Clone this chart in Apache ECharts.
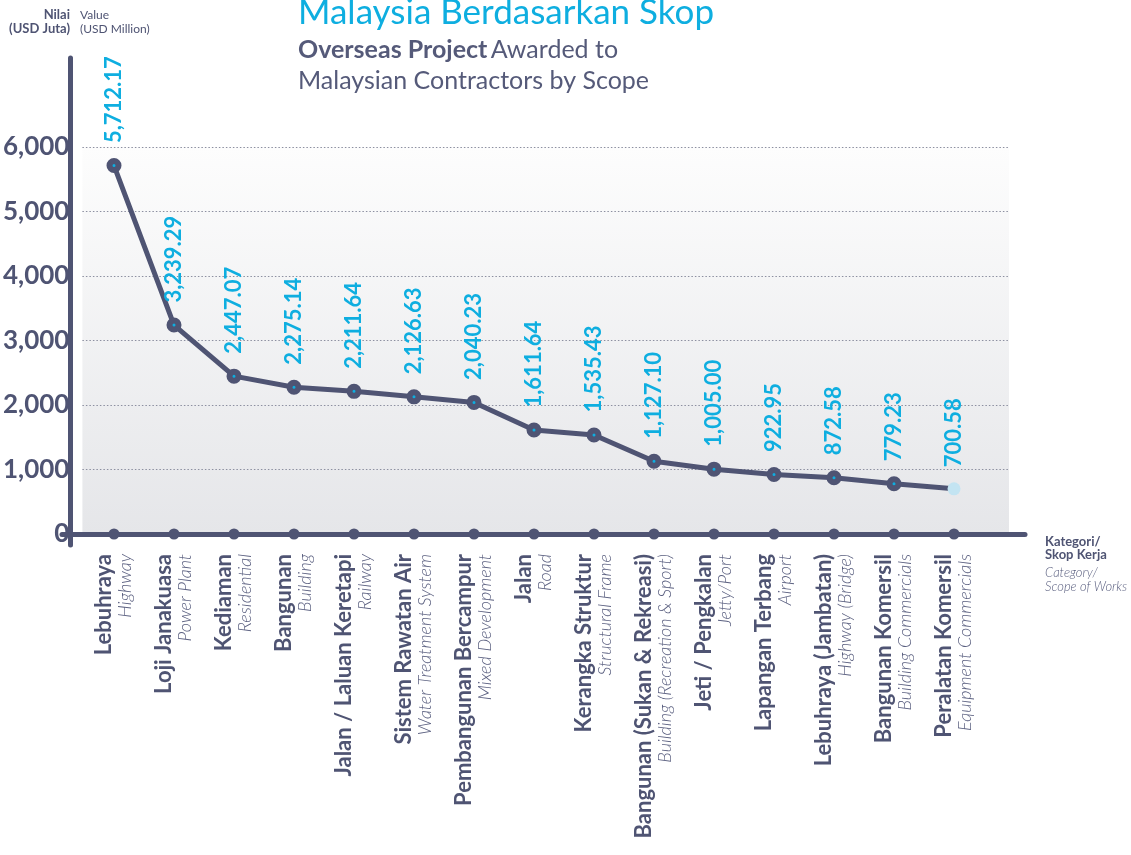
<!DOCTYPE html>
<html>
<head>
<meta charset="utf-8">
<script src="https://cdn.jsdelivr.net/npm/echarts@6/dist/echarts.min.js"></script>
<style>
  html, body { margin: 0; padding: 0; background: #ffffff; }
  #chart { width: 1131px; height: 855px; }
</style>
</head>
<body>
<div id="chart"></div>
<script>
// ---- data ----
const categoriesMy = ['Lebuhraya', 'Loji Janakuasa', 'Kediaman', 'Bangunan', 'Jalan / Laluan Keretapi',
  'Sistem Rawatan Air', 'Pembangunan Bercampur', 'Jalan', 'Kerangka Struktur', 'Bangunan (Sukan & Rekreasi)',
  'Jeti / Pengkalan', 'Lapangan Terbang', 'Lebuhraya (Jambatan)', 'Bangunan Komersil', 'Peralatan Komersil'];
const categoriesEn = ['Highway', 'Power Plant', 'Residential', 'Building', 'Railway',
  'Water Treatment System', 'Mixed Development', 'Road', 'Structural Frame', 'Building (Recreation & Sport)',
  'Jetty/Port', 'Airport', 'Highway (Bridge)', 'Building Commercials', 'Equipment Commercials'];
const values = [5712.17, 3239.29, 2447.07, 2275.14, 2211.64, 2126.63, 2040.23, 1611.64, 1535.43, 1127.10,
  1005.00, 922.95, 872.58, 779.23, 700.58];
const yMin = 0, yMax = 6000, yStep = 1000;

// ---- styles ----
const DARK = '#4f5473';
const CYAN = '#0eaee0';
const FONT = 'Lato, "Open Sans", sans-serif';
const NUMFONT = 'Lato, sans-serif';

const chart = echarts.init(document.getElementById('chart'), null, { renderer: 'canvas' });

const fmt = v => v.toLocaleString('en-US', { minimumFractionDigits: 2, maximumFractionDigits: 2 });
const last = values.length - 1;

const lineData = values.map((v, i) => i === last
  ? { value: v, symbolSize: 13, itemStyle: { color: '#c3e4f2', borderWidth: 0 } }
  : v);

const option = {
  backgroundColor: '#ffffff',
  animation: false,
  grid: [
    { left: 84, width: 900, top: 147, bottom: 321 },                       // main plot
    { left: 70, right: 122, top: 147, bottom: 321, show: true, borderWidth: 0,
      backgroundColor: new echarts.graphic.LinearGradient(0, 0, 0, 1, [
        { offset: 0, color: '#fdfdfd' }, { offset: 1, color: '#e5e6e9' }]) }, // background + y ticks
    { left: 70, width: 10, top: 58, bottom: 310 },                          // y axis line
    { left: 62, right: 106, top: 100, bottom: 321 }                         // x axis line
  ],
  xAxis: [
    { type: 'category', gridIndex: 0, data: categoriesMy, boundaryGap: true,
      axisLine: { show: false }, axisTick: { show: false }, splitLine: { show: false },
      axisLabel: {
        interval: 0, rotate: 90, margin: 20,
        formatter: (val, idx) => '{b|' + categoriesMy[idx] + '}\n{i|' + categoriesEn[idx] + '}',
        rich: {
          b: { fontFamily: FONT, fontWeight: 'bold', fontSize: 22, color: DARK, lineHeight: 22 },
          i: { fontFamily: FONT, fontWeight: 300, fontStyle: 'italic', fontSize: 18, color: '#5b6080', lineHeight: 20 }
        }
      } },
    { type: 'value', gridIndex: 1, show: false },
    { type: 'value', gridIndex: 2, show: false },
    { type: 'value', gridIndex: 3, min: 0, max: 1,
      axisLine: { show: true, onZero: false, lineStyle: { color: DARK, width: 5, cap: 'round' } },
      axisTick: { show: false }, axisLabel: { show: false }, splitLine: { show: false } }
  ],
  yAxis: [
    { type: 'value', gridIndex: 0, min: yMin, max: yMax, interval: yStep, show: false },
    { type: 'value', gridIndex: 1, min: yMin, max: yMax, interval: yStep,
      axisLine: { show: false }, axisTick: { show: false },
      axisLabel: { show: true, margin: 13, fontFamily: FONT, fontWeight: 'bold', fontSize: 26, color: DARK,
        formatter: v => v.toLocaleString('en-US') },
      splitLine: { show: true, lineStyle: { color: '#8c8fa0', width: 1, type: [1.5, 2] } } },
    { type: 'value', gridIndex: 2, min: 0, max: 1,
      axisLine: { show: true, onZero: false, lineStyle: { color: DARK, width: 5, cap: 'round' } },
      axisTick: { show: false }, axisLabel: { show: false }, splitLine: { show: false } },
    { type: 'value', gridIndex: 3, show: false }
  ],
  series: [
    { type: 'scatter', xAxisIndex: 0, yAxisIndex: 0, data: categoriesMy.map(() => 0),
      symbol: 'circle', symbolSize: 11, itemStyle: { color: DARK, opacity: 1 }, clip: false, z: 5 },
    { type: 'line', xAxisIndex: 0, yAxisIndex: 0, data: lineData,
      lineStyle: { color: DARK, width: 5 },
      symbol: 'circle', symbolSize: 9,
      itemStyle: { color: CYAN, borderColor: DARK, borderWidth: 6 },
      label: { show: true, position: 'top', distance: 15, rotate: 90, align: 'left', verticalAlign: 'middle',
        color: CYAN, fontFamily: NUMFONT, fontWeight: 'bold', fontSize: 22, formatter: p => fmt(values[p.dataIndex]) },
      z: 6 }
  ],
  graphic: [
    { type: 'text', left: 298, top: -5, style: { text: 'Malaysia Berdasarkan Skop', fill: CYAN, font: '35px ' + FONT } },
    { type: 'text', left: 298, top: 37, style: {
      text: '{b|Overseas Project} {r|Awarded to}\n{r|Malaysian Contractors by Scope}',
      rich: {
        b: { fontFamily: FONT, fontWeight: 'bold', fontSize: 25, fill: '#555a79', lineHeight: 31 },
        r: { fontFamily: FONT, fontSize: 25, fill: '#555a79', lineHeight: 31 }
      } } },
    { type: 'text', right: 1061, top: 8, style: { text: 'Nilai', font: 'bold 13px ' + FONT, fill: DARK } },
    { type: 'text', right: 1061, top: 22, style: { text: '(USD Juta)', font: 'bold 13px ' + FONT, fill: DARK } },
    { type: 'text', left: 80, top: 8, style: { text: 'Value\n(USD Million)', font: '12px ' + FONT, fill: DARK, lineHeight: 14 } },
    { type: 'text', left: 1045, top: 535, style: { text: 'Kategori/\nSkop Kerja', font: 'bold 13px ' + FONT, fill: DARK, lineHeight: 13 } },
    { type: 'text', left: 1045, top: 566, style: { text: 'Category/\nScope of Works', font: 'italic 300 13px ' + FONT, fill: '#5b6080', lineHeight: 14 } }
  ]
};

chart.setOption(option);
</script>
</body>
</html>
